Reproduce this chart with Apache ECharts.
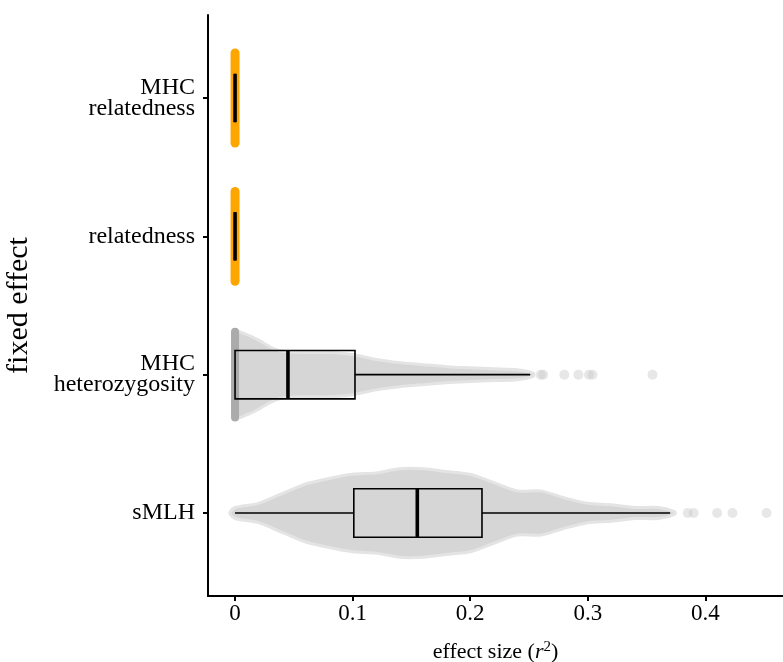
<!DOCTYPE html>
<html>
<head>
<meta charset="utf-8">
<script src="https://cdn.jsdelivr.net/npm/echarts@6/dist/echarts.min.js"></script>
<style>
	html, body { margin: 0; background: #fff; }
	#chart { width: 783px; height: 662px; }
</style>
</head>
<body>
<div id="chart"></div>
<script>
// categories, bottom to top (positions 1..4 on the y axis)
var categories = ['sMLH', 'MHC\nheterozygosity', 'relatedness', 'MHC\nrelatedness'];
var positions = [1, 2, 3, 4];

// box statistics per category
var boxLow = [0, 0, 0, 0];
var boxQ1 = [0.101, 0, 0, 0];
var boxMedian = [0.155, 0.045, 0, 0];
var boxQ3 = [0.210, 0.102, 0, 0];
var boxHigh = [0.370, 0.251, 0, 0];

// outliers beyond the whiskers
var smlhOutliers = [0.385, 0.390, 0.410, 0.423, 0.452];
var hetOutliers = [0.260, 0.262, 0.280, 0.292, 0.301, 0.304, 0.355];

// outline of the point swarm: half width (category units) at each effect size
var smlhCloudX = [-0.004, 0, 0.02, 0.04, 0.06, 0.08, 0.10, 0.12, 0.14, 0.16, 0.18, 0.20, 0.22, 0.24, 0.26, 0.28, 0.30, 0.32, 0.34, 0.36, 0.374];
var smlhCloudHalf = [0.01, 0.04, 0.07, 0.14, 0.21, 0.25, 0.28, 0.29, 0.32, 0.32, 0.30, 0.28, 0.22, 0.16, 0.16, 0.11, 0.07, 0.06, 0.04, 0.04, 0.01];
var hetCloudX = [0, 0.01, 0.02, 0.03, 0.04, 0.06, 0.08, 0.10, 0.12, 0.14, 0.16, 0.18, 0.20, 0.22, 0.24, 0.254];
var hetCloudHalf = [0.31, 0.29, 0.25, 0.20, 0.17, 0.16, 0.16, 0.145, 0.11, 0.087, 0.072, 0.058, 0.05, 0.043, 0.036, 0.01];

// columns of points stacked at exactly zero: [position, half length]
var zeroColumns = [[2, 0.31]];
var orangeColumns = [[3, 0.325], [4, 0.325]];

var xTicks = [0, 0.1, 0.2, 0.3, 0.4];

var serif = 'Liberation Serif';
var chart = echarts.init(document.getElementById('chart'));

var boxData = positions.map((p, i) => [p, boxLow[i], boxQ1[i], boxMedian[i], boxQ3[i], boxHigh[i]]);
var cloudData = [
	{ value: [1], xs: smlhCloudX, hs: smlhCloudHalf },
	{ value: [2], xs: hetCloudX, hs: hetCloudHalf }
];

function cloudItem(params, api) {
	var d = cloudData[params.dataIndex];
	var pos = d.value[0];
	var pts = [];
	d.xs.forEach((x, i) => pts.push(api.coord([x, pos + d.hs[i]])));
	for (var i = d.xs.length - 1; i >= 0; i--) pts.push(api.coord([d.xs[i], pos - d.hs[i]]));
	return {
		type: 'polygon',
		shape: { points: pts, smooth: 0.25 },
		style: { fill: '#d6d6d6', stroke: '#e4e4e4', lineWidth: 3 }
	};
}

function columnItem(color, width) {
	return (params, api) => {
		var pos = api.value(0), half = api.value(1);
		var a = api.coord([0, pos + half]);
		var b = api.coord([0, pos - half]);
		return {
			type: 'line',
			shape: { x1: a[0], y1: a[1], x2: b[0], y2: b[1] },
			style: { stroke: color, lineWidth: width, lineCap: 'round' }
		};
	};
}

function boxItem(params, api) {
	var pos = api.value(0);
	var h = 0.175;
	var lo = api.coord([api.value(1), pos]);
	var q1 = api.coord([api.value(2), pos]);
	var md = api.coord([api.value(3), pos]);
	var q3 = api.coord([api.value(4), pos]);
	var hi = api.coord([api.value(5), pos]);
	var top = api.coord([0, pos + h])[1];
	var bot = api.coord([0, pos - h])[1];
	var line = { stroke: '#000', lineWidth: 1.6 };
	return {
		type: 'group',
		children: [
			{ type: 'line', shape: { x1: lo[0], y1: lo[1], x2: q1[0], y2: q1[1] }, style: line },
			{ type: 'line', shape: { x1: q3[0], y1: q3[1], x2: hi[0], y2: hi[1] }, style: line },
			{ type: 'rect', shape: { x: q1[0], y: top, width: q3[0] - q1[0], height: bot - top },
				style: { fill: 'none', stroke: '#000', lineWidth: 1.6 } },
			{ type: 'line', shape: { x1: md[0], y1: top, x2: md[0], y2: bot },
				style: { stroke: '#000', lineWidth: 3.6 } }
		]
	};
}

var option = {
	animation: false,
	grid: { left: 208, right: 0, top: 15, bottom: 66, outerBoundsMode: 'none' },
	xAxis: {
		type: 'value',
		min: -0.023,
		max: 0.466,
		name: '{t|effect size (}{i|r}{s|2}{t|)}',
		nameLocation: 'middle',
		nameGap: 44,
		nameTextStyle: {
			rich: {
				t: { fontFamily: serif, fontSize: 22, color: '#000' },
				i: { fontFamily: serif, fontSize: 22, fontStyle: 'italic', color: '#000' },
				s: { fontFamily: serif, fontSize: 15, color: '#000', verticalAlign: 'top', padding: [0, 0, 9, 0] }
			}
		},
		splitLine: { show: false },
		axisLine: { onZero: false, lineStyle: { color: '#000', width: 2 } },
		axisTick: { customValues: xTicks, length: 5, lineStyle: { color: '#000', width: 2 } },
		axisLabel: {
			customValues: xTicks,
			formatter: v => String(v),
			fontFamily: serif, fontSize: 23, color: '#000', margin: 6
		}
	},
	yAxis: {
		type: 'value',
		min: 0.4,
		max: 4.6,
		name: 'fixed effect',
		nameLocation: 'middle',
		nameGap: 174,
		nameTextStyle: { fontFamily: serif, fontSize: 30, color: '#000' },
		splitLine: { show: false },
		axisLine: { onZero: false, lineStyle: { color: '#000', width: 2 } },
		axisTick: { customValues: positions, length: 5, lineStyle: { color: '#000', width: 2 } },
		axisLabel: {
			customValues: positions,
			formatter: v => categories[Math.round(v) - 1],
			fontFamily: serif, fontSize: 24, lineHeight: 21, color: '#000', margin: 13
		}
	},
	series: [
		{ type: 'custom', renderItem: cloudItem, data: cloudData, silent: true, z: 1 },
		{ type: 'custom', renderItem: columnItem('#ababab', 8), data: zeroColumns, silent: true, z: 2 },
		{ type: 'custom', renderItem: columnItem('#FFA500', 9), data: orangeColumns, silent: true, z: 2 },
		{
			type: 'scatter', symbolSize: 10, z: 2, silent: true,
			itemStyle: { color: 'rgba(200,200,200,0.55)' },
			data: smlhOutliers.map(v => [v, 1]).concat(hetOutliers.map(v => [v, 2]))
		},
		{ type: 'custom', renderItem: boxItem, data: boxData, silent: true, z: 3 }
	]
};

chart.setOption(option);
</script>
</body>
</html>
